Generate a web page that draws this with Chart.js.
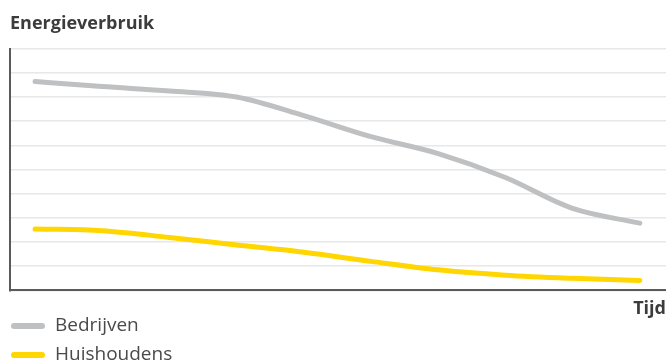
<!DOCTYPE html>
<html>
<head>
<meta charset="utf-8">
<script src="https://cdn.jsdelivr.net/npm/chart.js@4.4.1/dist/chart.umd.min.js"></script>
<style>
  html, body { margin: 0; padding: 0; background: #fff; }
  #wrap { width: 666px; height: 364px; position: relative; }
</style>
</head>
<body>
<div id="wrap"><canvas id="myChart"></canvas></div>
<script>
// data (arbitrary units, y axis 0..10)
const steps = [0, 1, 2, 3, 4, 5, 6, 7, 8, 9];
const bedrijven = [8.64, 8.43, 8.25, 8.0, 7.23, 6.36, 5.66, 4.67, 3.39, 2.78];
const huishoudens = [2.54, 2.47, 2.19, 1.88, 1.58, 1.2, 0.85, 0.63, 0.5, 0.41];
const seriesNames = ["Bedrijven", "Huishoudens"];
const seriesColors = ["#bfc0c2", "#ffd600"];

const FONT = "'Open Sans', Roboto, sans-serif";

// legend stacked under the chart, one row per series
const rowLegend = {
    id: "rowLegend",
    afterDraw(chart) {
        const ctx = chart.ctx;
        ctx.save();
        chart.data.datasets.forEach((ds, i) => {
            const y = 326 + i * 29;
            ctx.strokeStyle = ds.borderColor;
            ctx.lineWidth = 6;
            ctx.lineCap = "round";
            ctx.beginPath();
            ctx.moveTo(14, y);
            ctx.lineTo(42, y);
            ctx.stroke();
            ctx.fillStyle = "#4a4a4a";
            ctx.font = "19px " + FONT;
            ctx.textBaseline = "middle";
            ctx.fillText(ds.label, 55, y);
        });
        ctx.restore();
    }
};

new Chart(document.getElementById("myChart"), {
    type: "line",
    data: {
        datasets: [
            {
                label: seriesNames[0],
                data: steps.map((s, i) => ({ x: s, y: bedrijven[i] })),
                borderColor: seriesColors[0],
                borderWidth: 5,
                borderCapStyle: "round",
                cubicInterpolationMode: "monotone",
                pointRadius: 0,
                fill: false
            },
            {
                label: seriesNames[1],
                data: steps.map((s, i) => ({ x: s, y: huishoudens[i] })),
                borderColor: seriesColors[1],
                borderWidth: 5,
                borderCapStyle: "round",
                cubicInterpolationMode: "monotone",
                pointRadius: 0,
                fill: false
            }
        ]
    },
    options: {
        responsive: true,
        maintainAspectRatio: false,
        animation: false,
        layout: { padding: { left: 10, right: 0, top: 0, bottom: 44 } },
        plugins: {
            legend: { display: false },
            tooltip: { enabled: false },
            title: {
                display: true,
                text: "Energieverbruik",
                align: "start",
                color: "#3c3c3c",
                font: { family: FONT, size: 18, weight: "bold" },
                padding: { top: 13, bottom: 14 }
            }
        },
        scales: {
            x: {
                type: "linear",
                min: -0.373,
                max: 9.39,
                grid: { display: false, drawTicks: false },
                border: { color: "#5a5a5a", width: 2 },
                ticks: { display: false },
                title: {
                    display: true,
                    text: "Tijd",
                    align: "end",
                    color: "#3c3c3c",
                    font: { family: FONT, size: 18, weight: "bold" },
                    padding: { top: 8, bottom: 0 }
                }
            },
            y: {
                min: 0,
                max: 10,
                ticks: { display: false, stepSize: 1 },
                grid: { color: "#e8e8e8", lineWidth: 1.5, drawTicks: false },
                border: { color: "#5a5a5a", width: 2 }
            }
        }
    },
    plugins: [rowLegend]
});
</script>
</body>
</html>
